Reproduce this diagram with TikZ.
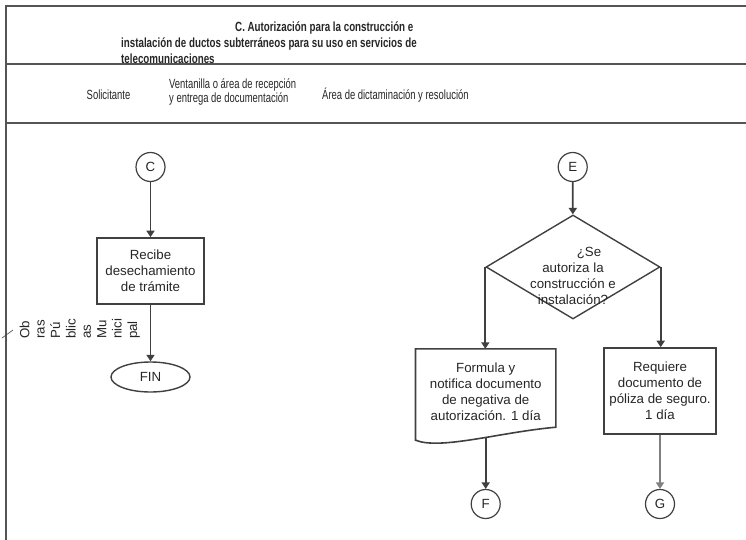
\documentclass[tikz,border=0pt]{standalone}
\usepackage{fontspec}
\setmainfont{Liberation Sans}
\newfontfamily\narrowfont[FakeStretch=0.71]{Liberation Sans}
\newfontfamily\titlefont[FakeStretch=0.735]{Liberation Sans}
\usepackage{tikz}
\usetikzlibrary{arrows.meta,shapes,positioning}

\definecolor{linegray}{HTML}{404040}
\definecolor{framegray}{HTML}{555555}
\definecolor{textgray}{HTML}{262626}

\tikzset{
  body/.style={font=\fontsize{13.3}{16}\selectfont,text=textgray},
  conn/.style={body,circle,draw=linegray,line width=1.2pt,minimum size=29pt,inner sep=0pt},
  proc/.style={body,rectangle,draw=linegray,line width=1.6pt,align=center,inner sep=2pt},
  term/.style={body,ellipse,draw=linegray,line width=1.4pt,minimum width=79pt,minimum height=30pt,inner sep=0pt},
  decision/.style={diamond,draw=linegray,line width=1.4pt,minimum width=174pt,minimum height=104pt,inner sep=0pt},
  lane/.style={font=\narrowfont\fontsize{13.3}{13.5}\selectfont,text=textgray,inner sep=0pt},
  flow/.style={->,every edge/.append style={draw=linegray,line width=1.8pt}},
  frame/.style={draw=framegray,line width=2pt}
}

\begin{document}
\begin{tikzpicture}[x=1pt,y=-1pt,>={Triangle[length=6.5pt,width=8pt]}]
  \useasboundingbox (0,0) rectangle (746,540);

  % Frame and header
  \draw[frame] (6,540) -- (6,6) -- (746,6);
  \draw[frame] (6,64) -- (746,64);
  \draw[frame] (6,123) -- (746,123);
  \node[anchor=north west,align=left,inner sep=0pt,text=textgray,
        font=\titlefont\bfseries\fontsize{13.3}{16}\selectfont] (title) at (121,22)
    {\hspace*{114pt}C. Autorización para la construcción e\\
     instalación de ductos subterráneos para su uso en servicios de\\
     telecomunicaciones};
  \node[lane]                        (lane S) at (108.5,95) {Solicitante};
  \node[lane,anchor=west,align=left] (lane V) at (169,92)   {Ventanilla o área de recepción\\y entrega de documentación};
  \node[lane,anchor=west]            (lane A) at (322,95)   {Área de dictaminación y resolución};

  \begin{scope}
    % Solicitante
    \node[conn] (C conn)   at (150.5,167) {C};
    \node[proc,minimum width=107pt,minimum height=66pt] (S recibe) at (150.5,271)
      {Recibe\\desechamiento\\de trámite};
    \node[term] (S fin)    at (150.5,377) {FIN};
    \node[body,font=\fontsize{13.3}{15.4}\selectfont,rotate=90,anchor=north west,align=left,inner sep=0pt] (S obras) at (19.5,339)
      {Ob\\ras\\Pú\\blic\\as\\Mu\\nici\\pal};
    \draw[linegray,line width=0.6pt] (2,338) -- (13,330);
    \path[flow]
    (C conn) edge (S recibe)
    (S recibe) edge (S fin);
  \end{scope}

  \begin{scope}
    % Area de dictaminacion
    \node[conn]     (E conn)     at (572.7,167) {E};
    \node[decision] (A decision) at (573,267) {};
    \node[body,align=center,inner sep=0pt] (A pregunta) at (573,276)
      {\hspace*{32pt}¿Se\\autoriza la\\construcción e\\instalación?};
    \node[body,align=center,minimum width=140pt,minimum height=86pt,inner sep=0pt] (A negativa) at (485.7,392)
      {Formula y\\notifica documento\\de negativa de\\autorización. 1 día};
    \draw[linegray,line width=1.6pt] (A negativa.north west) -- (A negativa.north east)
      -- ([yshift=8pt]A negativa.south east)
      .. controls +(-56,5) and +(25,10) .. ([yshift=-5pt]A negativa.south west) -- cycle;
    \coordinate (A wave) at ([yshift=-3pt]A negativa.south);
    \node[proc,minimum width=112pt,minimum height=86pt] (A poliza) at (660,391)
      {Requiere\\documento de\\póliza de seguro.\\1 día};
    \node[conn] (F conn) at (485.7,504) {F};
    \node[conn] (G conn) at (660,504)   {G};
    \path[flow]
    (E conn) edge (A decision)
    (A decision.west) edge (A decision.west |- A negativa.north)
    (A decision.east) edge (A decision.east |- A poliza.north)
    (A wave) edge (F conn)
    (A poliza) edge[draw=gray] (G conn);
  \end{scope}
\end{tikzpicture}
\end{document}
